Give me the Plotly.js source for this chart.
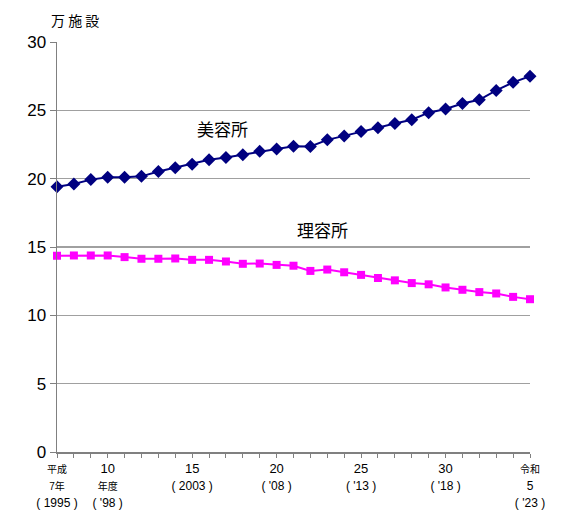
<!DOCTYPE html>
<html>
<head>
<meta charset="utf-8">
<script src="https://cdn.plot.ly/plotly-3.0.1.min.js"></script>
<style>
  html, body { margin: 0; padding: 0; background: #fff; }
  #chart { width: 579px; height: 521px; }
</style>
</head>
<body>
<div id="chart"></div>
<script>
// 年度 (1995 = 平成7年 ... 2023 = 令和5年)
const years = [];
for (let y = 1995; y <= 2023; y++) years.push(y);

// 美容所 (万施設)
const biyousho = [
    19.41, 19.61, 19.93, 20.10, 20.10, 20.17, 20.52, 20.79, 21.06, 21.38,
    21.55, 21.75, 22.00, 22.17, 22.37, 22.35, 22.84, 23.13, 23.45, 23.72,
    24.04, 24.31, 24.83, 25.10, 25.50, 25.77, 26.46, 27.05, 27.49
];

// 理容所 (万施設)
const riyousho = [
    14.36, 14.38, 14.38, 14.38, 14.26, 14.14, 14.14, 14.16, 14.06, 14.06,
    13.94, 13.77, 13.79, 13.69, 13.63, 13.25, 13.35, 13.15, 12.96, 12.73,
    12.56, 12.36, 12.27, 12.04, 11.87, 11.70, 11.60, 11.35, 11.18
];

// x 軸ラベル
const tickYears = [1995, 1998, 2003, 2008, 2013, 2018, 2023];
const tickLines = [
    ['平成', '7年', '( 1995 )'],
    ['10', '年度', '( \'98 )'],
    ['15', '( 2003 )'],
    ['20', '( \'08 )'],
    ['25', '( \'13 )'],
    ['30', '( \'18 )'],
    ['令和', '5', '( \'23 )']
];

const FONT = '"Liberation Sans", Arial, "Noto Sans CJK JP", sans-serif';
const JP_FONT = '"Noto Sans CJK JP", sans-serif';

// 数字・括弧は 13px、和文は小さめ
function lineSpan(text, i) {
    const isJp = /[^\x00-\x7f]/.test(text);
    const size = isJp ? 10 : (i === 0 ? 13 : 12);
    return '<span style="font-size:' + size + 'px">' + text + '</span>';
}
const tickText = tickLines.map(lines => lines.map(lineSpan).join('<br>'));

const traces = [
    {
        type: 'scatter',
        mode: 'lines+markers',
        x: years,
        y: biyousho,
        name: '美容所',
        line: { color: '#000080', width: 2 },
        marker: { symbol: 'diamond', size: 10, color: '#000080' },
        cliponaxis: false
    },
    {
        type: 'scatter',
        mode: 'lines+markers',
        x: years,
        y: riyousho,
        name: '理容所',
        line: { color: '#ff00ff', width: 2 },
        marker: { symbol: 'square', size: 8, color: '#ff00ff' },
        cliponaxis: false
    }
];

const layout = {
    width: 579,
    height: 521,
    paper_bgcolor: '#ffffff',
    plot_bgcolor: '#ffffff',
    font: { family: FONT, color: '#000000', size: 13 },
    margin: { l: 57, r: 49, t: 42, b: 69 },
    showlegend: false,
    xaxis: {
        range: [1995, 2023],
        tickmode: 'array',
        tickvals: tickYears,
        ticktext: tickText,
        ticks: 'outside',
        ticklen: 4,
        tickcolor: '#808080',
        tickfont: { family: FONT, size: 13, color: '#000' },
        showgrid: false,
        zeroline: false,
        showline: true,
        linecolor: '#808080',
        linewidth: 1.5,
        minor: { tickmode: 'linear', tick0: 1995, dtick: 1, ticks: 'outside', ticklen: 4, tickcolor: '#808080', showgrid: false }
    },
    yaxis: {
        range: [0, 30],
        dtick: 5,
        ticks: 'outside',
        ticklen: 6,
        tickcolor: '#808080',
        tickfont: { family: FONT, size: 17, color: '#000' },
        showgrid: true,
        gridcolor: '#a0a0a0',
        gridwidth: 1.5,
        zeroline: false,
        showline: true,
        linecolor: '#808080',
        linewidth: 1.5
    },
    annotations: [
        {
            text: '万 施 設',
            xref: 'paper', yref: 'paper',
            x: -0.017, y: 1.0, yshift: 22,
            xanchor: 'left', yanchor: 'middle',
            showarrow: false,
            font: { family: JP_FONT, size: 14, color: '#000' }
        },
        {
            text: '美容所',
            xref: 'x', yref: 'y',
            x: 2004.8, y: 23.7,
            showarrow: false,
            font: { family: JP_FONT, size: 17, color: '#000' }
        },
        {
            text: '理容所',
            xref: 'x', yref: 'y',
            x: 2010.7, y: 16.3,
            showarrow: false,
            font: { family: JP_FONT, size: 17, color: '#000' }
        }
    ]
};

Plotly.newPlot('chart', traces, layout, { displayModeBar: false, staticPlot: true });
</script>
</body>
</html>
